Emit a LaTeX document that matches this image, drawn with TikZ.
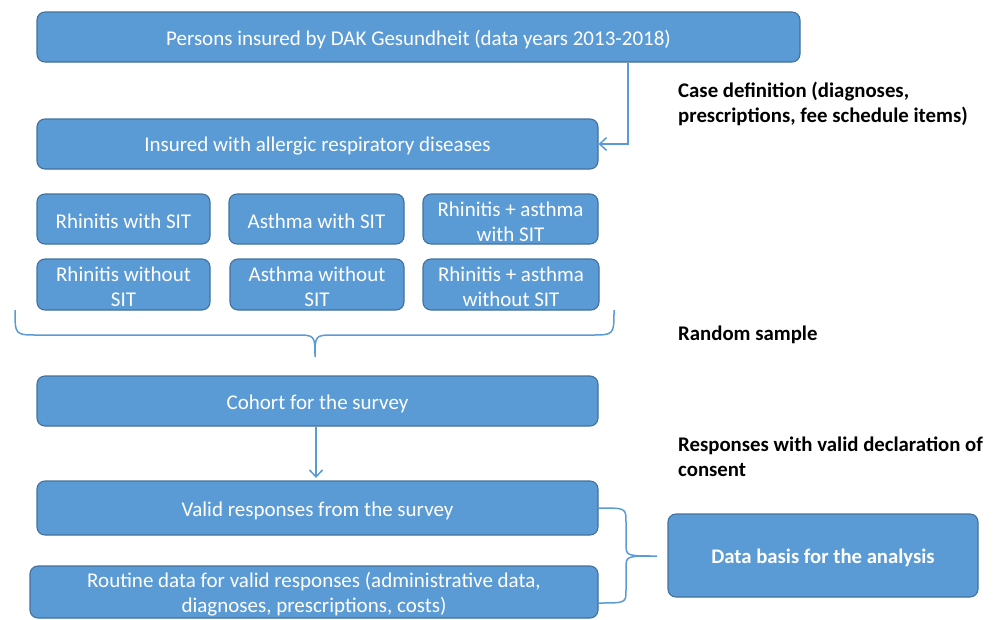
\documentclass[tikz,border=0pt]{standalone}
\usepackage{fontspec}
\setmainfont{Carlito}
\usetikzlibrary{arrows.meta}
\definecolor{boxfill}{HTML}{5B9BD5}
\definecolor{boxedge}{HTML}{41719C}
\definecolor{linec}{HTML}{5B9BD5}
\tikzset{
  bx/.style={draw=boxedge, fill=boxfill, line width=1.1pt, rounded corners=8pt, inner sep=0pt},
  bxtext/.style={text=white, align=center, font=\fontsize{21}{25}\selectfont, inner sep=0pt},
  conn/.style={draw=linec, line width=1.5pt, -{Straight Barb[length=7pt,width=13pt]}},
  brc/.style={draw=linec, line width=1.5pt},
  lbl/.style={anchor=north west, align=left, font=\fontsize{20.8}{25}\selectfont\bfseries, inner sep=0pt}
}
\newcommand{\bxat}[6]{% name, x1, y1, x2, y2, text
  \node[bx, minimum width={(#4-#2)*1pt}, minimum height={(#5-#3)*1pt}] (#1) at ({(#2+#4)/2},{(#3+#5)/2}) {};
  \node[bxtext, yshift=-2.5pt] (#1t) at (#1.center) {#6};}
\begin{document}
\begin{tikzpicture}[x=1pt,y=-1pt]
\useasboundingbox (0,0) rectangle (999,619);
\bxat{top}{37}{12}{800}{62}{Persons insured by DAK Gesundheit (data years 2013-2018)}
\bxat{insured}{37}{119}{598}{169}{Insured with allergic respiratory diseases}
\bxat{rws}{37}{194}{210}{244}{Rhinitis with SIT}
\bxat{aws}{229}{194}{404}{244}{Asthma with SIT}
\bxat{raws}{423}{194}{598}{244}{Rhinitis + asthma\\with SIT}
\bxat{rwo}{37}{259}{210}{310}{Rhinitis without\\SIT}
\bxat{awo}{230}{259}{404}{310}{Asthma without\\SIT}
\bxat{rawo}{423}{259}{599}{310}{Rhinitis + asthma\\without SIT}
\bxat{cohort}{37}{376}{598}{426}{Cohort for the survey}
\bxat{valid}{37}{481}{598}{535}{Valid responses from the survey}
\bxat{routine}{30}{566}{598}{618}{Routine data for valid responses (administrative data,\\diagnoses, prescriptions, costs)}
\bxat{basis}{668}{514}{978}{597}{\bfseries\fontsize{20.7}{25}\selectfont Data basis for the analysis}

\draw[conn] (top.south -| 628,0) |- (insured.east);
\coordinate (varr) at (316,478);
\draw[conn] (cohort.south -| varr) -- (varr);

% lower brace under the six boxes
\coordinate (btip) at (315,357);
\draw[brc] (15,310) .. controls (15,335) .. (38,335) -- (295,335) .. controls (315,335) .. (btip)
  .. controls (315,335) .. (335,335) -- (591,335) .. controls (614,335) .. (614,310);
% right brace
\coordinate (rtip) at (657,556);
\draw[brc] (valid.east) .. controls (626,508) .. (626,522) -- (626,544) .. controls (626,556) .. (rtip)
  .. controls (626,556) .. (626,568) -- (626,590) .. controls (626,603) .. (598,603);

\node[lbl] (l1) at (678,82) {Case definition (diagnoses,\\prescriptions, fee schedule items)};
\node[lbl] (l2) at (678,326) {Random sample};
\node[lbl] (l3) at (678,437) {Responses with valid declaration of\\consent};
\end{tikzpicture}
\end{document}
